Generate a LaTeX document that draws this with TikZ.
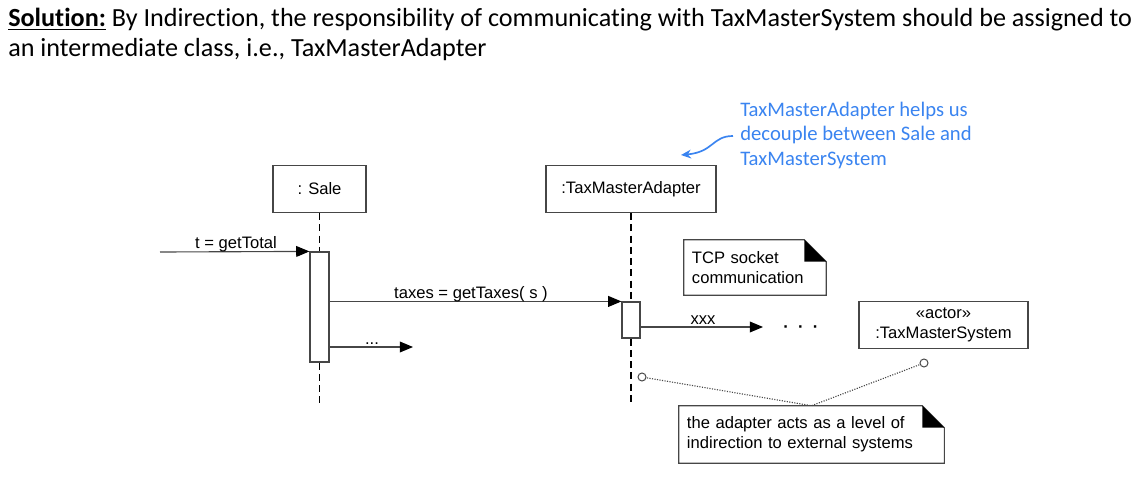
\documentclass[tikz,border=0pt]{standalone}
\usepackage{fontspec}
\setmainfont{Liberation Sans}
\newfontfamily\calibri[Ligatures=NoCommon]{Carlito}
\usetikzlibrary{arrows.meta,calc}
\definecolor{noteblue}{RGB}{58,132,240}
\definecolor{umlgray}{RGB}{70,70,70}
\newcommand\umlfont{\fontsize{11.8}{14.2}\selectfont}

\tikzset{
  obj/.style={draw=umlgray, line width=0.8pt, fill=white, minimum height=1.175cm, font=\umlfont},
  act/.style={draw=umlgray, line width=0.8pt, fill=white, inner sep=0pt},
  life/.style={line width=0.9pt, dash pattern=on 5pt off 3pt},
  msg/.style={umlgray, line width=0.8pt, -{Triangle[length=0.33cm,width=0.27cm,fill=black,color=black]}},
  lbl/.style={font=\umlfont, inner sep=0pt, anchor=base},
  notebox/.style={inner xsep=0.2cm, inner ysep=0pt, align=left, font=\umlfont},
  link/.style={densely dotted, umlgray, line width=0.8pt},
  headtxt/.style={anchor=base west, inner sep=0pt, font=\calibri\fontsize{18.6}{21.3}\selectfont},
  bluetxt/.style={anchor=base west, inner sep=0pt, text=noteblue, font=\calibri\fontsize{14.7}{17.8}\selectfont},
}

\begin{document}
\begin{tikzpicture}[x=0.025cm, y=-0.025cm]
\useasboundingbox (0,0) rectangle (1140,479);

% Heading
\node[headtxt] (head1) at (8,27) {\underline{\textbf{Solution:}} By Indirection, the responsibility of communicating with TaxMasterSystem should be assigned to};
\node[headtxt] (head2) at (8,57) {an intermediate class, i.e., TaxMasterAdapter};

% Blue remark
\node[bluetxt] (rem1) at (740,116) {TaxMasterAdapter helps us};
\node[bluetxt] (rem2) at (740,141) {decouple between Sale and};
\node[bluetxt] (rem3) at (740,166) {TaxMasterSystem};

% Objects
\node[obj, minimum width=2.325cm] (sale) at (319.5,189) {: Sale};
\node[obj, minimum width=4.25cm] (adapter) at (631,189) {:TaxMasterAdapter};
\node[obj, minimum width=4.225cm, align=center, inner ysep=0pt] (tms) at (943.5,325) {«actor»\\:TaxMasterSystem};

% Lifelines and activations
\coordinate (saleend) at (319.5,405);
\coordinate (adaptend) at (631,405);
\node[act, minimum width=0.475cm, minimum height=2.75cm] (sact) at (319.5,307) {};
\node[act, minimum width=0.45cm, minimum height=0.9cm] (aact) at (631,320) {};
\draw[life] (sale.south) -- (sact.north);
\draw[life] (sact.south) -- (saleend);
\draw[life] (adapter.south) -- (aact.north);
\draw[life] (aact.south) -- (adaptend);

% Messages
\coordinate (found) at (160,252);
\coordinate (dotsend) at (413,347);
\coordinate (xxxend) at (763,327);
\draw[msg] (found) -- (sact.north west);
\draw[msg] (sact.east |- aact.north west) -- (aact.north west);
\draw[msg] (sact.east |- dotsend) -- (dotsend);
\draw[msg] (aact.east |- xxxend) -- (xxxend);
\node[lbl] (ltotal) at (236,248) {t = getTotal};
\node[lbl] (ltaxes) at (471,298) {taxes = getTaxes( s )};
\node[lbl] (ldots) at (372,344) {...};
\node[lbl] (lxxx) at (703,324) {xxx};
\node[font=\bfseries\umlfont, inner sep=0pt] (more) at (801,329) {\textperiodcentered\ \ \textperiodcentered\ \ \textperiodcentered};

% Notes
\node[notebox, minimum width=3.55cm, minimum height=1.375cm, text width=3.15cm] (tcp) at (755,267.5) {TCP socket\\communication};
\draw[umlgray, line width=0.8pt] (tcp.north west) -- ($(tcp.north east)+(-22,0)$) -- ($(tcp.north east)+(0,22)$) -- (tcp.south east) -- (tcp.south west) -- cycle;
\fill ($(tcp.north east)+(-22,0)$) -- ($(tcp.north east)+(-22,22)$) -- ($(tcp.north east)+(0,22)$) -- cycle;

\node[notebox, minimum width=6.625cm, minimum height=1.425cm, text width=6.225cm] (ind) at (811.5,434.5) {the adapter acts as a level of\\indirection to external systems};
\draw[umlgray, line width=0.8pt] (ind.north west) -- ($(ind.north east)+(-22,0)$) -- ($(ind.north east)+(0,22)$) -- (ind.south east) -- (ind.south west) -- cycle;
\fill ($(ind.north east)+(-22,0)$) -- ($(ind.north east)+(-22,22)$) -- ($(ind.north east)+(0,22)$) -- cycle;

% Note links
\coordinate (pin1) at (642,377);
\coordinate (pin2) at (924,363);
\draw[link] (pin1) -- (ind.north);
\draw[link] (pin2) -- (ind.north);
\draw[umlgray, fill=white, line width=0.7pt] (pin1) circle (0.1cm);
\draw[umlgray, fill=white, line width=0.7pt] (pin2) circle (0.1cm);

% Blue arrow
\coordinate (bstart) at (733,136);
\coordinate (btip) at (681,155);
\draw[noteblue, line width=1.2pt, -{Stealth[length=0.25cm,width=0.22cm]}] (bstart) .. controls (712,136) and (714,152) .. (btip);

\end{tikzpicture}
\end{document}
